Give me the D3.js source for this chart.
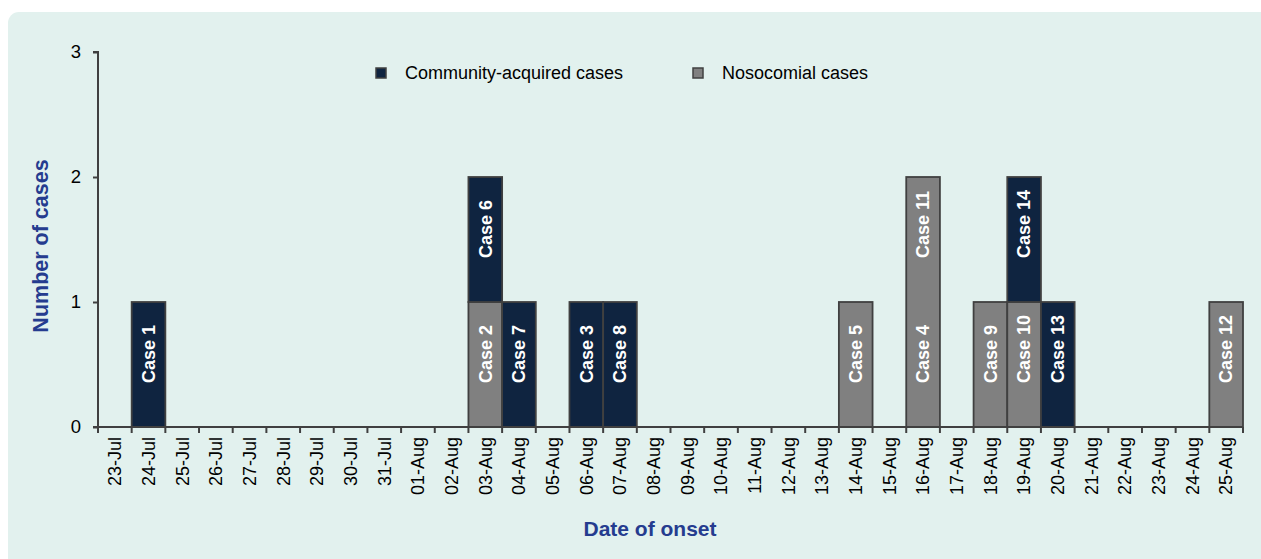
<!DOCTYPE html>
<html>
<head>
<meta charset="utf-8">
<script src="https://cdn.jsdelivr.net/npm/d3@7"></script>
<style>
  body { margin: 0; background: #fff; }
  text { font-family: Arial, "Liberation Sans", sans-serif; }
</style>
</head>
<body>
<div id="chart-area"></div>
<script>
var dates = ["23-Jul","24-Jul","25-Jul","26-Jul","27-Jul","28-Jul","29-Jul","30-Jul","31-Jul",
	"01-Aug","02-Aug","03-Aug","04-Aug","05-Aug","06-Aug","07-Aug","08-Aug","09-Aug","10-Aug",
	"11-Aug","12-Aug","13-Aug","14-Aug","15-Aug","16-Aug","17-Aug","18-Aug","19-Aug","20-Aug",
	"21-Aug","22-Aug","23-Aug","24-Aug","25-Aug"];

var nosocomial = [0,0,0,0,0,0,0,0,0, 0,0,1,0,0,0,0,0,0,0, 0,0,0,1,0,2,0,1,1,0, 0,0,0,0,1];
var community  = [0,1,0,0,0,0,0,0,0, 0,0,1,1,0,1,1,0,0,0, 0,0,0,0,0,0,0,0,1,1, 0,0,0,0,0];

// case labels, in stack order (nosocomial first, then community)
var caseDates  = ["24-Jul","03-Aug","03-Aug","04-Aug","06-Aug","07-Aug","14-Aug","16-Aug","16-Aug","18-Aug","19-Aug","19-Aug","20-Aug","25-Aug"];
var caseLabels = ["Case 1","Case 2","Case 6","Case 7","Case 3","Case 8","Case 5","Case 4","Case 11","Case 9","Case 10","Case 14","Case 13","Case 12"];

var yTicks = [0, 1, 2, 3];
var seriesNames = ["Community-acquired cases", "Nosocomial cases"];
var seriesColors = ["#0f2440", "#808080"];

var svg = d3.select("#chart-area").append("svg")
	.attr("width", 1261)
	.attr("height", 559);

svg.append("rect")
	.attr("x", 8).attr("y", 12)
	.attr("width", 1270).attr("height", 570)
	.attr("rx", 11)
	.attr("fill", "#e2f1ee");

var x = d3.scaleBand()
	.domain(dates)
	.range([98, 1243])
	.padding(0);

var y = d3.scaleLinear()
	.domain([0, 3])
	.range([427, 52]);

var table = dates.map((d, i) => ({date: d, noso: nosocomial[i], comm: community[i]}));
var stack = d3.stack().keys(["noso", "comm"])(table);

var g = svg.append("g");
stack.forEach((layer) => {
	g.selectAll(null)
		.data(layer.filter(d => d[1] > d[0]))
		.enter().append("rect")
		.attr("x", d => x(d.data.date))
		.attr("width", x.bandwidth())
		.attr("y", d => y(d[1]))
		.attr("height", d => y(d[0]) - y(d[1]))
		.attr("fill", layer.key == "comm" ? seriesColors[0] : seriesColors[1])
		.attr("stroke", "#404040")
		.attr("stroke-width", 1.8);
});

// labels
var level = {};
for (let i = 0; i < caseDates.length; i++)
{
	var lv = level[caseDates[i]] || 0;
	level[caseDates[i]] = lv + 1;
	var cx = x(caseDates[i]) + x.bandwidth() / 2;
	var cy = y(lv) - 44;
	svg.append("text")
		.attr("transform", "translate(" + cx + "," + cy + ") rotate(-90)")
		.attr("dy", "0.35em")
		.attr("fill", "#fff")
		.attr("font-weight", "bold")
		.attr("font-size", "18px")
		.text(caseLabels[i]);
}

// y axis
var yAxis = svg.append("g")
	.attr("transform", "translate(98,0)")
	.call(d3.axisLeft(y).tickValues(yTicks).tickFormat(d3.format("d")).tickSize(5).tickPadding(12));
yAxis.select(".domain").attr("stroke", "#404040").attr("stroke-width", 2).attr("d", "M-5,52H0V427H-5");
yAxis.selectAll(".tick line").attr("stroke", "#404040").attr("stroke-width", 2);
yAxis.selectAll(".tick text").attr("font-size", "18.5px").attr("fill", "#000").style("font-family", "Arial, 'Liberation Sans', sans-serif");

// x axis
var xAxis = svg.append("g")
	.attr("transform", "translate(0,427)")
	.call(d3.axisBottom(x).tickSize(0).tickPadding(0));
xAxis.select(".domain").attr("stroke", "#404040").attr("stroke-width", 2).attr("d", "M98,0H1243");
xAxis.selectAll(".tick text")
	.attr("transform", "rotate(-90)")
	.attr("text-anchor", "end")
	.attr("x", -10)
	.attr("y", 0)
	.attr("dy", "0.35em")
	.attr("font-size", "18px")
	.attr("fill", "#000")
	.style("font-family", "Arial, 'Liberation Sans', sans-serif");

var bounds = dates.map(d => x(d)).concat([x.range()[1]]);
svg.append("g").selectAll("line")
	.data(bounds)
	.enter().append("line")
	.attr("x1", d => d).attr("x2", d => d)
	.attr("y1", 427).attr("y2", 433)
	.attr("stroke", "#404040")
	.attr("stroke-width", 2);

// titles
svg.append("text")
	.attr("x", 650).attr("y", 536)
	.attr("text-anchor", "middle")
	.attr("font-size", "21px")
	.attr("font-weight", "bold")
	.attr("fill", "#253c8f")
	.text("Date of onset");

svg.append("text")
	.attr("transform", "translate(40,246) rotate(-90)")
	.attr("text-anchor", "middle")
	.attr("dy", "0.35em")
	.attr("font-size", "21.5px")
	.attr("font-weight", "bold")
	.attr("fill", "#253c8f")
	.text("Number of cases");

// legend
var legendX = [376, 693];
for (let i = 0; i < seriesNames.length; i++)
{
	svg.append("rect")
		.attr("x", legendX[i]).attr("y", 68)
		.attr("width", 10).attr("height", 10)
		.attr("fill", seriesColors[i])
		.attr("stroke", "#404040")
		.attr("stroke-width", 1.5);
	svg.append("text")
		.attr("x", legendX[i] + 29).attr("y", 73)
		.attr("dy", "0.35em")
		.attr("font-size", "18px")
		.attr("fill", "#000")
		.text(seriesNames[i]);
}
</script>
</body>
</html>
